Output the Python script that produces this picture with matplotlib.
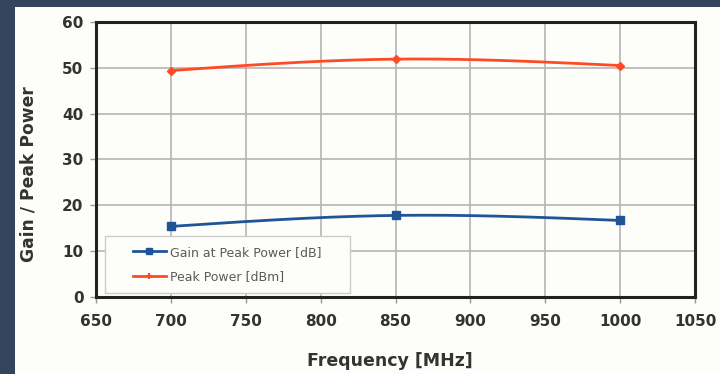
import matplotlib.pyplot as plt
import numpy as np
from matplotlib.patches import Rectangle

# Data
freq = [700, 850, 1000]
gain = [15.4, 17.8, 16.7]
peak_power = [49.4, 51.9, 50.5]

x_ticks = [650, 700, 750, 800, 850, 900, 950, 1000, 1050]
y_ticks = [0, 10, 20, 30, 40, 50, 60]


def smooth(x, y, n=200):
    # natural cubic spline through the points (like the office chart's smoothing)
    x = np.asarray(x, float)
    y = np.asarray(y, float)
    m = len(x)
    h = np.diff(x)
    A = np.zeros((m, m))
    r = np.zeros(m)
    A[0, 0] = A[-1, -1] = 1
    for i in range(1, m - 1):
        A[i, i - 1] = h[i - 1]
        A[i, i] = 2 * (h[i - 1] + h[i])
        A[i, i + 1] = h[i]
        r[i] = 6 * ((y[i + 1] - y[i]) / h[i] - (y[i] - y[i - 1]) / h[i - 1])
    M = np.linalg.solve(A, r)
    xs = np.linspace(x[0], x[-1], n)
    idx = np.clip(np.searchsorted(x, xs) - 1, 0, m - 2)
    x0, x1 = x[idx], x[idx + 1]
    hh = x1 - x0
    t0, t1 = x1 - xs, xs - x0
    ys = (M[idx] * t0**3 + M[idx + 1] * t1**3) / (6 * hh) \
        + (y[idx] / hh - M[idx] * hh / 6) * t0 \
        + (y[idx + 1] / hh - M[idx + 1] * hh / 6) * t1
    return xs, ys


plt.rcParams["font.family"] = ["DejaVu Sans"]

fig = plt.figure(figsize=(7.2, 3.74), dpi=100)
fig.patch.set_facecolor("#33445c")
fig.patches.append(Rectangle((15 / 720, 0), 1, 1 - 7 / 374, transform=fig.transFigure,
                             facecolor="#fdfdfa", edgecolor="none", zorder=-10))

ax = fig.add_axes([96 / 720, 1 - 297 / 374, 599 / 720, 275 / 374])
ax.set_facecolor("#fdfdfa")

blue = "#1f5597"
red = "#ff4a26"

xs, ys = smooth(freq, gain)
ax.plot(xs, ys, color=blue, linewidth=2, solid_capstyle="round")
ax.plot(freq, gain, linestyle="none", marker="s", markersize=6, color=blue)
xs, ys = smooth(freq, peak_power)
ax.plot(xs, ys, color=red, linewidth=2, solid_capstyle="round")
ax.plot(freq, peak_power, linestyle="none", marker="D", markersize=4.5, color=red)

# legend entries
ax.plot([], [], color=blue, linewidth=2, marker="s", markersize=5, label="Gain at Peak Power [dB]")
ax.plot([], [], color=red, linewidth=2, marker="+", markersize=5, markeredgewidth=1.5,
        label="Peak Power [dBm]")
handles, labels = ax.get_legend_handles_labels()

# legend box drawn separately so it can be wider than its entries
ax.add_patch(Rectangle((0.015, 0.0145), 0.409, 0.207, transform=ax.transAxes,
                       facecolor="#fdfdfa", edgecolor="#cccccc", linewidth=1, zorder=4))
leg = ax.legend(handles, labels, loc="center left", bbox_to_anchor=(0.062, 0.118),
                fontsize=9, frameon=False, handlelength=2.6, handletextpad=0.35,
                labelcolor="#5a5a5a", borderpad=0, borderaxespad=0, labelspacing=0.95)
leg.set_zorder(5)

ax.set_xlim(650, 1050)
ax.set_ylim(0, 60)
ax.set_xticks(x_ticks)
ax.set_yticks(y_ticks)
ax.grid(True, color="#b4b4b4", linewidth=1.2)
ax.set_axisbelow(True)

for s in ax.spines.values():
    s.set_linewidth(2.2)
    s.set_color("#222222")

ax.tick_params(axis="both", length=4, width=1, color="#999999", labelsize=11,
               labelcolor="#333333")
ax.tick_params(axis="x", pad=8)
ax.tick_params(axis="y", pad=5)
for lab in ax.get_xticklabels() + ax.get_yticklabels():
    lab.set_fontweight("bold")

ax.set_xlabel("Frequency [MHz]", fontsize=12.5, fontweight="bold", color="#333333")
ax.set_ylabel("Gain / Peak Power", fontsize=12.3, fontweight="bold", color="#333333")
ax.xaxis.set_label_coords(0.491, -0.2)
ax.yaxis.set_label_coords(-0.097, 0.445)

fig.savefig("out.png", dpi=100, facecolor=fig.get_facecolor())
